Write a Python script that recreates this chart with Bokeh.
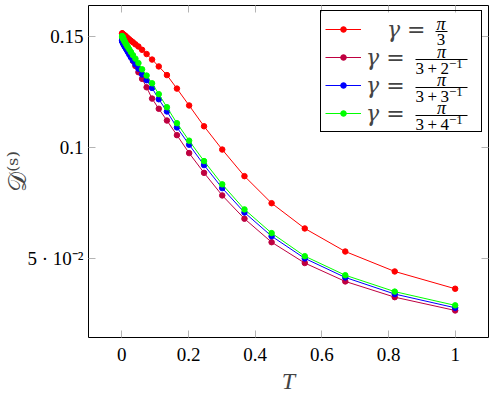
from bokeh.plotting import figure
from bokeh.models import (Range1d, FixedTicker, LinearAxis, Legend, LegendItem,
                          ColumnDataSource)
from bokeh.core.properties import value
from bokeh.embed import file_html
from bokeh.resources import INLINE

# ---------------- data ----------------
T = [1.0, 0.8187, 0.6703, 0.5488, 0.4493, 0.3679, 0.3012, 0.2466, 0.2019,
     0.1653, 0.1353, 0.1108, 0.0907, 0.0743, 0.0608, 0.0498, 0.0408, 0.0334,
     0.0273, 0.0224, 0.0183, 0.0150, 0.0123, 0.0101, 0.0082, 0.0067, 0.0055,
     0.0045, 0.0037, 0.0030, 0.0025, 0.0020, 0.0017, 0.0014, 0.0011, 0.0009]

d_pi3 = [0.0362, 0.0440, 0.0530, 0.0634, 0.0748, 0.0870, 0.0990, 0.1095, 0.1189,
         0.1265, 0.1326, 0.1365, 0.1396, 0.1421, 0.1440, 0.1455, 0.1465, 0.1474,
         0.1481, 0.1487, 0.1492, 0.1496, 0.1500, 0.1503, 0.1505, 0.1507, 0.1508,
         0.1509, 0.1510, 0.1511, 0.1512, 0.1512, 0.1513, 0.1513, 0.1514, 0.1514]

d_half = [0.0264, 0.0324, 0.0395, 0.0478, 0.0572, 0.0678, 0.0783, 0.0885, 0.0974,
          0.1055, 0.1121, 0.1174, 0.1220, 0.1271, 0.1309, 0.1339, 0.1367, 0.1390,
          0.1410, 0.1427, 0.1440, 0.1451, 0.1460, 0.1467, 0.1473, 0.1478, 0.1482,
          0.1486, 0.1488, 0.1490, 0.1492, 0.1494, 0.1495, 0.1496, 0.1497, 0.1498]

d_third = [0.0276, 0.0338, 0.0413, 0.0499, 0.0599, 0.0706, 0.0816, 0.0920, 0.1012,
           0.1090, 0.1162, 0.1217, 0.1268, 0.1303, 0.1329, 0.1355, 0.1375, 0.1392,
           0.1406, 0.1419, 0.1430, 0.1439, 0.1446, 0.1452, 0.1457, 0.1461, 0.1465,
           0.1468, 0.1471, 0.1473, 0.1475, 0.1477, 0.1478, 0.1480, 0.1481, 0.1482]

d_quarter = [0.0287, 0.0349, 0.0423, 0.0509, 0.0613, 0.0720, 0.0833, 0.0938, 0.1030,
             0.1109, 0.1181, 0.1240, 0.1289, 0.1324, 0.1352, 0.1380, 0.1400, 0.1416,
             0.1430, 0.1442, 0.1452, 0.1460, 0.1467, 0.1473, 0.1478, 0.1482, 0.1486,
             0.1489, 0.1492, 0.1494, 0.1496, 0.1498, 0.1499, 0.1500, 0.1501, 0.1502]

series = [d_pi3, d_half, d_third, d_quarter]
colors = ["#ff0000", "#bf0040", "#0000ff", "#00ff00"]
denominators = ["3", "3\u2009+\u20092", "3\u2009+\u20093", "3\u2009+\u20094"]

x_ticks = [0, 0.2, 0.4, 0.6, 0.8, 1]
x_tick_labels = ["0", "0.2", "0.4", "0.6", "0.8", "1"]
y_ticks = [0.05, 0.1, 0.15]
y_tick_labels = ["5 \u00b7 10\u207b\u00b2", "0.1", "0.15"]

SERIF = "Liberation Serif"
X0, X1 = -0.1, 1.1
Y0, Y1 = 0.0142, 0.164

# ---------------- figure ----------------
FL, FT, FW, FH = 88, 5, 400, 332   # frame left/top/width/height in page px
p = figure(frame_width=FW, frame_height=FH, output_backend="svg",
           toolbar_location=None,
           x_range=Range1d(X0, X1), y_range=Range1d(Y0, Y1),
           min_border_left=FL, min_border_right=10, min_border_top=FT,
           min_border_bottom=59)
p.background_fill_color = "white"
p.border_fill_color = "white"
p.outline_line_color = "black"
p.outline_line_width = 1
p.outline_line_alpha = 1
p.grid.visible = False

tick_gray = "#b4b4b4"


def style_axis(ax, ticks, labels, standoff):
    ax.ticker = FixedTicker(ticks=ticks)
    ax.major_label_overrides = dict(zip(ticks, labels))
    ax.axis_line_color = None
    ax.major_tick_in = 7
    ax.major_tick_out = 0
    ax.major_tick_line_color = tick_gray
    ax.major_tick_line_width = 1
    ax.minor_tick_line_color = None
    ax.major_label_text_font = SERIF
    ax.major_label_text_font_size = "19px"
    ax.major_label_text_color = "black"
    ax.major_label_standoff = standoff


style_axis(p.xaxis[0], x_ticks, x_tick_labels, 10)
style_axis(p.yaxis[0], y_ticks, y_tick_labels, 5)
p.xaxis[0].axis_label = "T"
p.xaxis[0].axis_label_text_font = SERIF
p.xaxis[0].axis_label_text_font_style = "italic"
p.xaxis[0].axis_label_text_font_size = "24px"
p.xaxis[0].axis_label_standoff = 4

p.yaxis[0].axis_label = "\U0001D49F\u207d\u02e2\u207e"
p.yaxis[0].axis_label_text_font = "DejaVu Serif"
p.yaxis[0].axis_label_text_font_style = "normal"
p.yaxis[0].axis_label_text_font_size = "25px"
p.yaxis[0].axis_label_standoff = -8

for place, ticks in (("above", x_ticks), ("right", y_ticks)):
    ax = LinearAxis(ticker=FixedTicker(ticks=ticks))
    ax.major_label_overrides = {t: "" for t in ticks}
    ax.major_label_text_font_size = "0px"
    ax.major_label_standoff = 0
    ax.axis_line_color = None
    ax.major_tick_in = 7
    ax.major_tick_out = 0
    ax.major_tick_line_color = tick_gray
    ax.minor_tick_line_color = None
    p.add_layout(ax, place)

# ---------------- series ----------------
items = []
for i, (vals, c) in enumerate(zip(series, colors)):
    lr = p.line(T, vals, line_color=c, line_width=1)
    sr = p.scatter(T, vals, size=5.5, fill_color=c, line_color=c)
    lbl = "\u00a0\u00a0\u00a0\u03b3 =" if i == 0 else "\u03b3 ="
    items.append(LegendItem(label=lbl, renderers=[lr, sr]))

legend = Legend(items=items, location=(232, 205), orientation="vertical",
                padding=4, margin=0, spacing=0, glyph_width=36, glyph_height=14,
                label_height=28, label_width=111, label_standoff=5,
                border_line_color="black", border_line_width=1,
                border_line_alpha=1, background_fill_alpha=0,
                label_text_font="DejaVu Serif",
                label_text_font_size="22px", label_text_font_style="italic")
p.add_layout(legend)


# page pixel -> data coordinate (for the legend's stacked fractions)
def dx(px):
    return X0 + (px - FL) / FW * (X1 - X0)


def dy(py):
    return Y1 - (py - FT) / FH * (Y1 - Y0)


def add_text(xs, ys, texts, align, size, style="normal"):
    src = ColumnDataSource(dict(x=[dx(v) for v in xs], y=[dy(v) for v in ys],
                                t=texts))
    p.text(x="x", y="y", text="t", source=src, text_align=align,
           text_baseline="middle", text_font=value(SERIF),
           text_font_size=value(size), text_font_style=style,
           text_color="black")


pi_x, pi_y, den_x, den_y, den_t, sup_x, sup_y = [], [], [], [], [], [], []
bar_x0, bar_x1, bar_y = [], [], []
d0_x, d0_y = [], []
for r, den in enumerate(denominators):
    bar = 31 + 28 * r
    if r == 0:
        pi_x.append(440.5); pi_y.append(bar - 7.5)
        d0_x.append(440.5); d0_y.append(bar + 7.5)
        bar_x0.append(435); bar_x1.append(447); bar_y.append(bar)
    else:
        pi_x.append(441); pi_y.append(bar - 8)
        den_x.append(415); den_y.append(bar + 8.5); den_t.append(den)
        sup_x.append(448.5); sup_y.append(bar + 4)
        bar_x0.append(415); bar_x1.append(467); bar_y.append(bar)

add_text(pi_x, pi_y, ["\u03c0"] * len(pi_x), "center", "18px", "italic")
add_text(d0_x, d0_y, [denominators[0]], "center", "17px")
add_text(den_x, den_y, den_t, "left", "17px")
add_text(sup_x, sup_y, ["\u22121"] * len(sup_x), "left", "13px")
p.segment(x0=[dx(v) for v in bar_x0], x1=[dx(v) for v in bar_x1],
          y0=[dy(v) for v in bar_y], y1=[dy(v) for v in bar_y],
          line_color="black", line_width=1)

open("out.html", "w").write(file_html(p, INLINE))
